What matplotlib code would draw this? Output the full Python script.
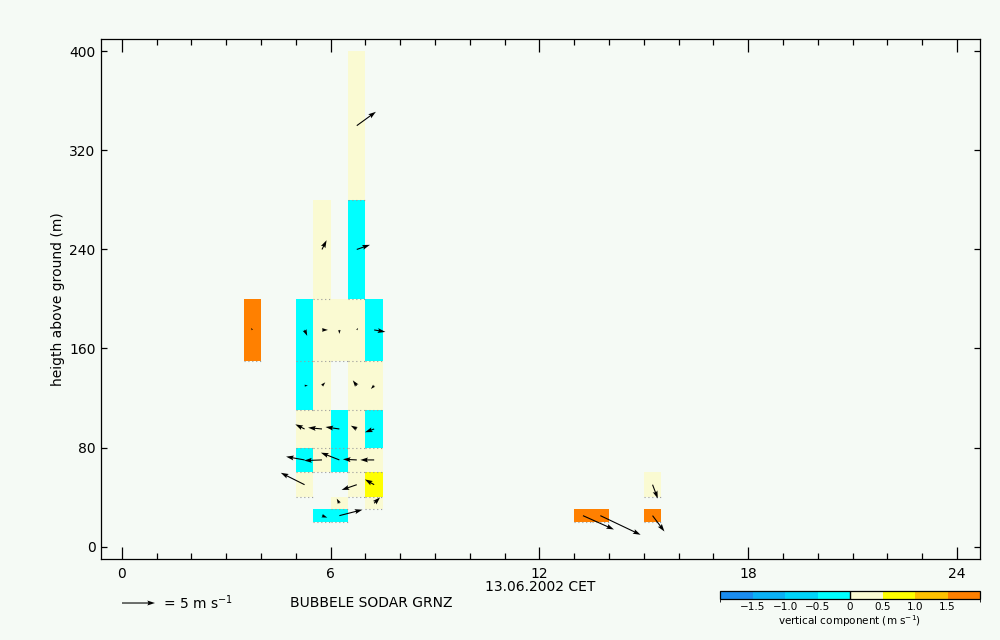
import numpy as np
import matplotlib
matplotlib.use("Agg")
import matplotlib.pyplot as plt
from matplotlib.colors import ListedColormap, BoundaryNorm

# sodar cells: centre hour, bottom / top height (m), vertical component (m/s)
hour = [3.75,
        5.25, 5.25, 5.25, 5.25, 5.25,
        5.75, 5.75, 5.75, 5.75, 5.75, 5.75,
        6.25, 6.25, 6.25, 6.25, 6.25,
        6.75, 6.75, 6.75, 6.75, 6.75, 6.75, 6.75,
        7.25, 7.25, 7.25, 7.25, 7.25, 7.25,
        13.25, 13.75, 15.25, 15.25]
z_bot = [150,
         150, 110, 80, 60, 40,
         200, 150, 110, 80, 60, 20,
         150, 80, 60, 30, 20,
         280, 200, 150, 110, 80, 60, 40,
         150, 110, 80, 60, 40, 30,
         20, 20, 40, 20]
z_top = [200,
         200, 150, 110, 80, 60,
         280, 200, 150, 110, 80, 30,
         200, 110, 80, 40, 30,
         400, 280, 200, 150, 110, 80, 60,
         200, 150, 110, 80, 60, 40,
         30, 30, 60, 30]
w_vert = [1.7,
          -0.3, -0.3, 0.2, -0.3, 0.2,
          0.2, 0.2, 0.2, 0.2, 0.2, -0.3,
          0.2, -0.3, -0.3, 0.2, -0.3,
          0.2, -0.3, 0.2, 0.2, 0.2, 0.2, 0.2,
          -0.3, 0.2, -0.3, 0.2, 0.7, 0.2,
          1.7, 1.7, 0.2, 1.7]
# horizontal wind (m/s)
u_wind = [-0.2,
          0.4, 0.5, -1.4, -2.8, -3.6,
          0.7, 0.9, 0.5, -2.1, -2.7, 0.8,
          0.0, -2.1, -2.8, -0.4, 3.5,
          2.9, 2.0, 0.2, -0.6, -0.9, -2.1, -2.3,
          1.7, -0.5, -1.4, -2.1, -1.4, 0.9,
          4.7, 6.1, 0.8, 1.8]
v_wind = [0.3,
          -0.9, 0.0, 0.7, 0.5, 1.8,
          1.4, 0.0, 0.5, 0.2, -0.1, -0.3,
          -0.6, 0.3, 1.1, 0.7, 0.9,
          2.1, 0.7, 0.3, 0.8, 0.5, 0.1, -0.8,
          -0.3, -0.5, -0.5, 0.0, 0.8, 0.9,
          -2.1, -2.9, -2.1, -2.4]

cb_bounds = [-2.0, -1.5, -1.0, -0.5, 0.0, 0.5, 1.0, 1.5, 2.0]
cb_colors = ['#1a8cf0', '#0bb0f5', '#00d4fa', '#00ffff',
             '#fafad2', '#ffff00', '#ffc000', '#ff8000']
cb_ticks = [-1.5, -1.0, -0.5, 0.0, 0.5, 1.0, 1.5]
cb_labels = ['\u22121.5', '\u22121.0', '\u22120.5', '0', '0.5', '1.0', '1.5']

bg = '#f5faf5'
plt.rcParams['font.family'] = 'DejaVu Sans'

cmap = ListedColormap(cb_colors)
norm = BoundaryNorm(cb_bounds, cmap.N)

fig = plt.figure(figsize=(10, 6.4), dpi=100, facecolor=bg)
ax = fig.add_axes([0.101, 0.1266, 0.879, 0.8125], facecolor=bg)

hour = np.array(hour)
z_bot = np.array(z_bot)
z_top = np.array(z_top)
ax.bar(hour, z_top - z_bot, width=0.5, bottom=z_bot,
       color=cmap(norm(np.array(w_vert))), linewidth=0, zorder=2)
ax.hlines(z_bot, hour - 0.25, hour + 0.25, colors='#9a9a9a',
          linestyles=(0, (1, 2.5)), linewidth=0.8, zorder=3)

q = ax.quiver(hour, (z_bot + z_top) / 2, u_wind, v_wind, angles='uv',
              units='dots', scale_units='dots', scale=5 / 33.0,
              width=1.1, headwidth=4.5, headlength=7, headaxislength=6,
              color='black', zorder=4)

ax.set_xlim(-0.6, 24.66)
ax.set_ylim(-10, 410)
ax.set_xticks(np.arange(0, 25, 6))
ax.set_xticks(np.arange(0, 25, 1), minor=True)
ax.set_yticks(np.arange(0, 401, 80))
ax.tick_params(which='both', direction='in', top=True, right=True,
               labelsize=10, width=0.9)
ax.tick_params(axis='x', which='major', length=9, pad=6)
ax.tick_params(axis='x', which='minor', length=4)
ax.tick_params(axis='y', which='major', length=4, pad=4)
for s in ax.spines.values():
    s.set_linewidth(0.9)

ax.set_ylabel('heigth above ground (m)', fontsize=10, labelpad=3)
ax.set_xlabel('13.06.2002 CET', fontsize=10, labelpad=-1)

ax.quiverkey(q, 0.155, 0.0578, 5, r'= 5 m s$^{-1}$', labelpos='E',
             coordinates='figure', labelsep=0.08,
             fontproperties={'size': 10})
fig.text(0.29, 0.0578, 'BUBBELE SODAR GRNZ', fontsize=10, va='center')

cax = fig.add_axes([0.72, 0.0641, 0.26, 0.0125])
cb = fig.colorbar(plt.cm.ScalarMappable(norm=norm, cmap=cmap), cax=cax,
                  orientation='horizontal', ticks=cb_ticks)
cb.ax.set_xticklabels(cb_labels)
cb.ax.tick_params(length=0, labelsize=7.5, pad=2)
cb.outline.set_linewidth(0.9)
cax.axvline(0, color='black', linewidth=1)
cb.set_label(r'vertical component (m s$^{-1}$)', fontsize=7.5, labelpad=1)

fig.savefig('out.png', dpi=100, facecolor=bg)
